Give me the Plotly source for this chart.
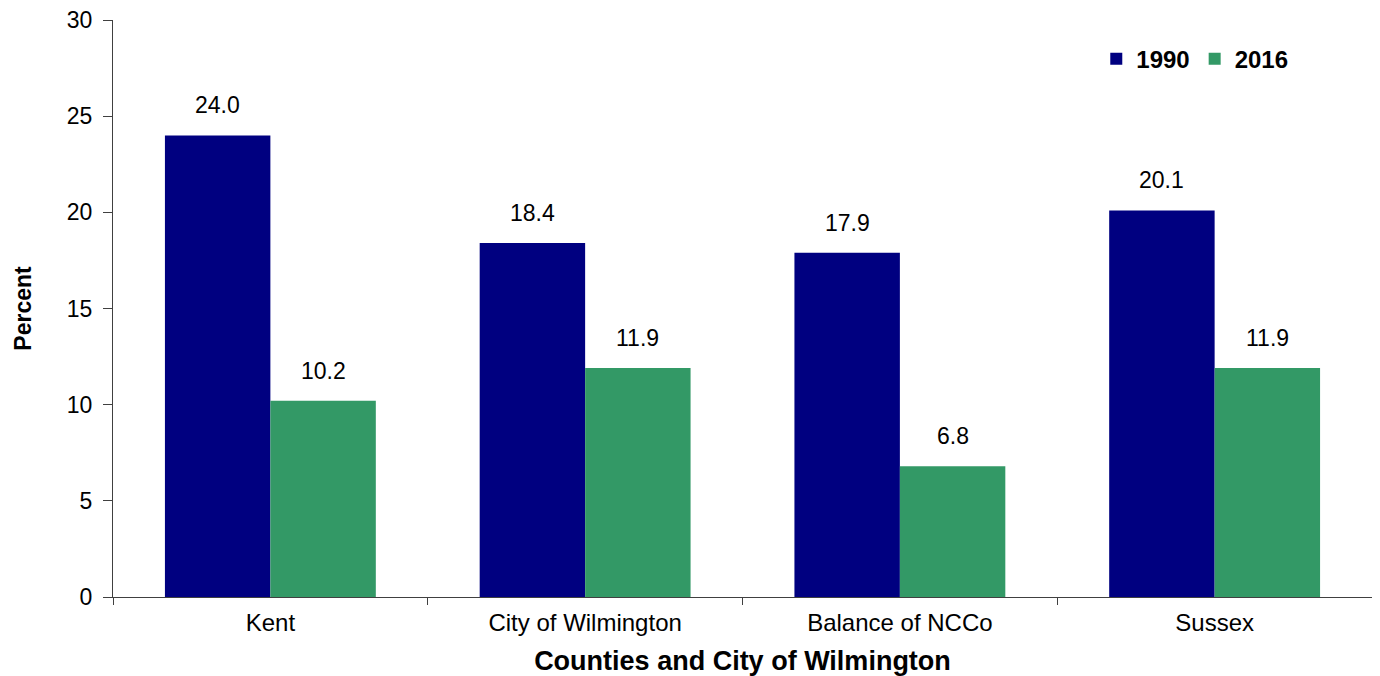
import plotly.graph_objects as go

categories = ["Kent", "City of Wilmington", "Balance of NCCo", "Sussex"]
values_1990 = [24.0, 18.4, 17.9, 20.1]
values_2016 = [10.2, 11.9, 6.8, 11.9]
y_ticks = [0, 5, 10, 15, 20, 25, 30]

navy = "#000080"
green = "#339966"
font = "Liberation Sans, Arial, sans-serif"

fig = go.Figure()
fig.add_trace(go.Bar(name="1990", x=categories, y=values_1990, marker=dict(color=navy, line=dict(width=0))))
fig.add_trace(go.Bar(name="2016", x=categories, y=values_2016, marker=dict(color=green, line=dict(width=0))))

gw = 0.67
for i, (a, b) in enumerate(zip(values_1990, values_2016)):
    for off, v in ((-gw / 4, a), (gw / 4, b)):
        fig.add_annotation(x=i + off, y=v, xref="x", yref="y", text=f"{v:.1f}",
                           showarrow=False, yshift=30, font=dict(size=23, color="black", family=font))

fig.update_layout(
    width=1372, height=668,
    margin=dict(l=105, r=8, t=12, b=79, autoexpand=False),
    plot_bgcolor="white", paper_bgcolor="white",
    barmode="group", bargap=0.33, bargroupgap=0,
    font=dict(family=font, color="black"),
    showlegend=True,
    legend=dict(orientation="h", x=0.781, y=0.932, xanchor="left", yanchor="middle",
                font=dict(size=24, family=font, color="black", weight="bold"),
                itemwidth=30, tracegroupgap=0, bgcolor="rgba(0,0,0,0)"),
    xaxis=dict(showline=True, linecolor="#404040", linewidth=1, ticks="outside", tickson="boundaries",
               ticklen=7, tickcolor="#404040", tickfont=dict(size=24), ticklabelstandoff=4,
               automargin=False,
               title=dict(text="<b>Counties and City of Wilmington</b>", font=dict(size=27), standoff=20),
               range=[-0.5, 3.5]),
    yaxis=dict(range=[0, 30], tickvals=y_ticks, showline=True, linecolor="#404040", linewidth=1,
               ticks="outside", ticklen=9, tickcolor="#404040", showgrid=False, zeroline=False,
               tickfont=dict(size=23), ticklabelstandoff=6, ticklabeloverflow="allow",
               automargin=False,
               title=dict(text="<b>Percent</b>", font=dict(size=23), standoff=28)),
)

fig.write_html("out.html")
